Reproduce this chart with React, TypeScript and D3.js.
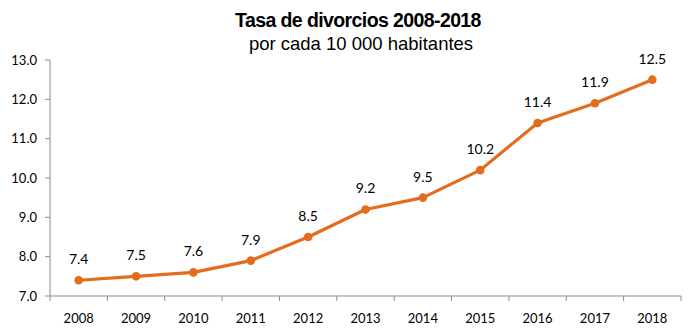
import React from "react";
import * as d3 from "d3";

const years = ["2008","2009","2010","2011","2012","2013","2014","2015","2016","2017","2018"];
const rates = [7.4,7.5,7.6,7.9,8.5,9.2,9.5,10.2,11.4,11.9,12.5];
const yTicks = [7,8,9,10,11,12,13];
const title = "Tasa de divorcios 2008-2018";
const subtitle = "por cada 10 000 habitantes";

export default function App() {
  const W = 700, H = 336;
  const left = 50, right = 681, top = 60, bottom = 296;
  const x = d3.scaleBand<string>().domain(years).range([left, right]);
  const y = d3.scaleLinear().domain([7, 13]).range([bottom, top]);
  const cx = (d: string) => (x(d) as number) + x.bandwidth() / 2;
  const line = d3.line<number>().x((_, i) => cx(years[i])).y(d => y(d));
  const orange = "#E46C1E";
  const axis = "#8C8C8C";
  const font = "Lato, 'Open Sans', sans-serif";
  const boundaries = d3.range(years.length + 1).map(i => left + i * x.bandwidth());
  return (
    <svg width={W} height={H} style={{ position: "absolute", left: 0, top: 0, background: "#fff" }}>
      <text x={358} y={27} textAnchor="middle" fontFamily="'Liberation Sans', Arial, sans-serif" fontWeight="bold" fontSize={19.5} letterSpacing={-0.6} fill="#000">{title}</text>
      <text x={361} y={50} textAnchor="middle" fontFamily="'Liberation Sans', Arial, sans-serif" fontSize={18.5} fill="#000">{subtitle}</text>
      <line x1={left} x2={left} y1={top} y2={bottom} stroke={axis} strokeWidth={1} />
      {yTicks.map(t => (
        <g key={t}>
          <line x1={left - 5} x2={left} y1={y(t)} y2={y(t)} stroke={axis} />
          <text x={37} y={y(t)} dy="0.35em" textAnchor="end" fontFamily={font} fontSize={13} fill="#000">{t.toFixed(1)}</text>
        </g>
      ))}
      <line x1={left} x2={right} y1={bottom} y2={bottom} stroke={axis} />
      {boundaries.map((b, i) => (
        <line key={i} x1={b} x2={b} y1={bottom} y2={bottom + 5} stroke={axis} />
      ))}
      {years.map(yr => (
        <text key={yr} x={cx(yr)} y={318} dy="0.35em" textAnchor="middle" fontFamily={font} fontSize={13} fill="#000">{yr}</text>
      ))}
      <path d={line(rates) || ""} fill="none" stroke={orange} strokeWidth={3.2} strokeLinejoin="round" />
      {rates.map((v, i) => (
        <g key={i}>
          <circle cx={cx(years[i])} cy={y(v)} r={4.3} fill={orange} />
          <text x={cx(years[i])} y={y(v) - 21} dy="0.35em" textAnchor="middle" fontFamily={font} fontSize={14} fill="#000">{v.toFixed(1)}</text>
        </g>
      ))}
    </svg>
  );
}
